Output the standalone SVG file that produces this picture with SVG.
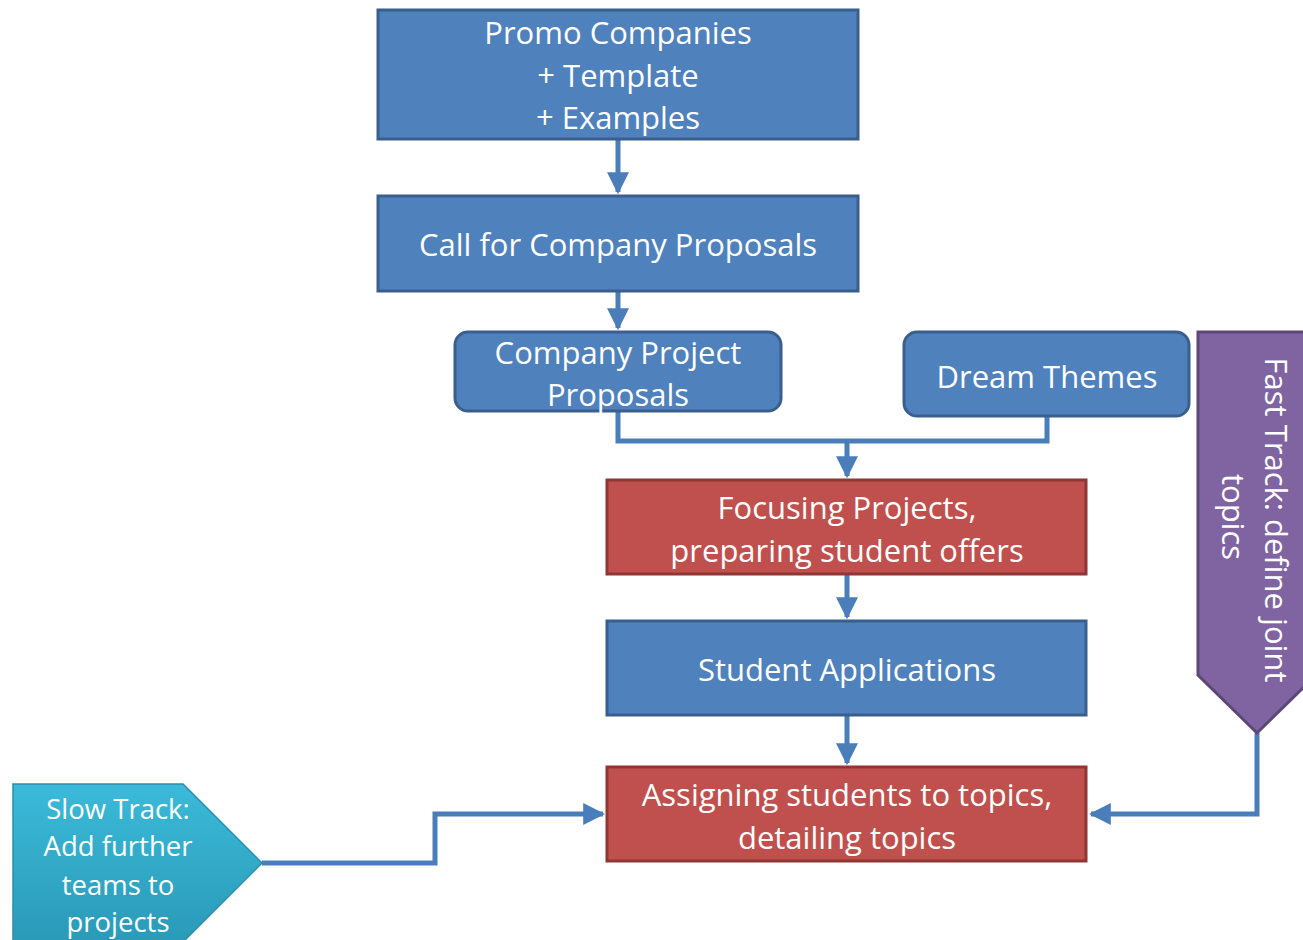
<svg xmlns="http://www.w3.org/2000/svg" width="1303" height="940" viewBox="0 0 1303 940">
<defs>
<style>
.blue{fill:#4f81bd;stroke:#3b5f8c;stroke-width:3}
.red{fill:#c0504d;stroke:#8e3735;stroke-width:3}
.t{font-family:"Open Sans","Liberation Sans",sans-serif;font-size:31px;fill:#fff;text-anchor:middle}
.s{font-size:27.5px}
.c{fill:none;stroke:#4a7ebb;stroke-width:5}
</style>
<marker id="ah" viewBox="0 0 10 10" refX="9" refY="5" markerWidth="4.4" markerHeight="4.4" markerUnits="strokeWidth" orient="auto">
<path d="M0,0 L10,5 L0,10 Z" fill="#4a7ebb"/>
</marker>
<linearGradient id="cy" x1="0" y1="0" x2="0" y2="1">
<stop offset="0" stop-color="#3bbad9"/>
<stop offset="1" stop-color="#2a9ab8"/>
</linearGradient>
</defs>
<g id="connectors">
<path class="c" d="M618,139 V192" marker-end="url(#ah)"/>
<path class="c" d="M618,291 V328" marker-end="url(#ah)"/>
<path class="c" d="M618,411 V441 H1047 V416"/>
<path class="c" d="M847,441 V476" marker-end="url(#ah)"/>
<path class="c" d="M847,574 V617" marker-end="url(#ah)"/>
<path class="c" d="M847,715 V763" marker-end="url(#ah)"/>
<path class="c" d="M262,863 H435 V814 H603" marker-end="url(#ah)"/>
<path class="c" d="M1257,733 V814 H1091" marker-end="url(#ah)"/>
</g>
<g id="promo">
<rect class="blue" x="378" y="10" width="480" height="129"/>
<text class="t" x="618" y="44">Promo Companies</text>
<text class="t" x="618" y="87">+ Template</text>
<text class="t" x="618" y="129">+ Examples</text>
</g>
<g id="call">
<rect class="blue" x="378" y="196" width="480" height="95"/>
<text class="t" x="618" y="256">Call for Company Proposals</text>
</g>
<g id="proposals">
<rect class="blue" x="455" y="332" width="326" height="79" rx="13"/>
<text class="t" x="618" y="364">Company Project</text>
<text class="t" x="618" y="406">Proposals</text>
</g>
<g id="dream">
<rect class="blue" x="904" y="332" width="285" height="84" rx="13"/>
<text class="t" x="1047" y="388">Dream Themes</text>
</g>
<g id="focusing">
<rect class="red" x="607" y="480" width="479" height="94"/>
<text class="t" x="847" y="519">Focusing Projects,</text>
<text class="t" x="847" y="562">preparing student offers</text>
</g>
<g id="applications">
<rect class="blue" x="607" y="621" width="479" height="94"/>
<text class="t" x="847" y="681">Student Applications</text>
</g>
<g id="assigning">
<rect class="red" x="607" y="767" width="479" height="94"/>
<text class="t" x="847" y="806">Assigning students to topics,</text>
<text class="t" x="847" y="849">detailing topics</text>
</g>
<g id="slowtrack">
<path d="M13,784 H183 L262,863 L183,942 H13 Z" fill="url(#cy)" stroke="#2b8fab" stroke-width="1.5"/>
<text class="t s" x="118" y="819">Slow Track:</text>
<text class="t s" x="118" y="856">Add further</text>
<text class="t s" x="118" y="895">teams to</text>
<text class="t s" x="118" y="932">projects</text>
</g>
<g id="fasttrack">
<path d="M1198,332 H1316 V675 L1257,733 L1198,675 Z" fill="#8064a2" stroke="#5c4776" stroke-width="3"/>
<text class="t" transform="translate(1265,520) rotate(90)">Fast Track: define joint</text>
<text class="t" transform="translate(1222,517) rotate(90)">topics</text>
</g>
</svg>
